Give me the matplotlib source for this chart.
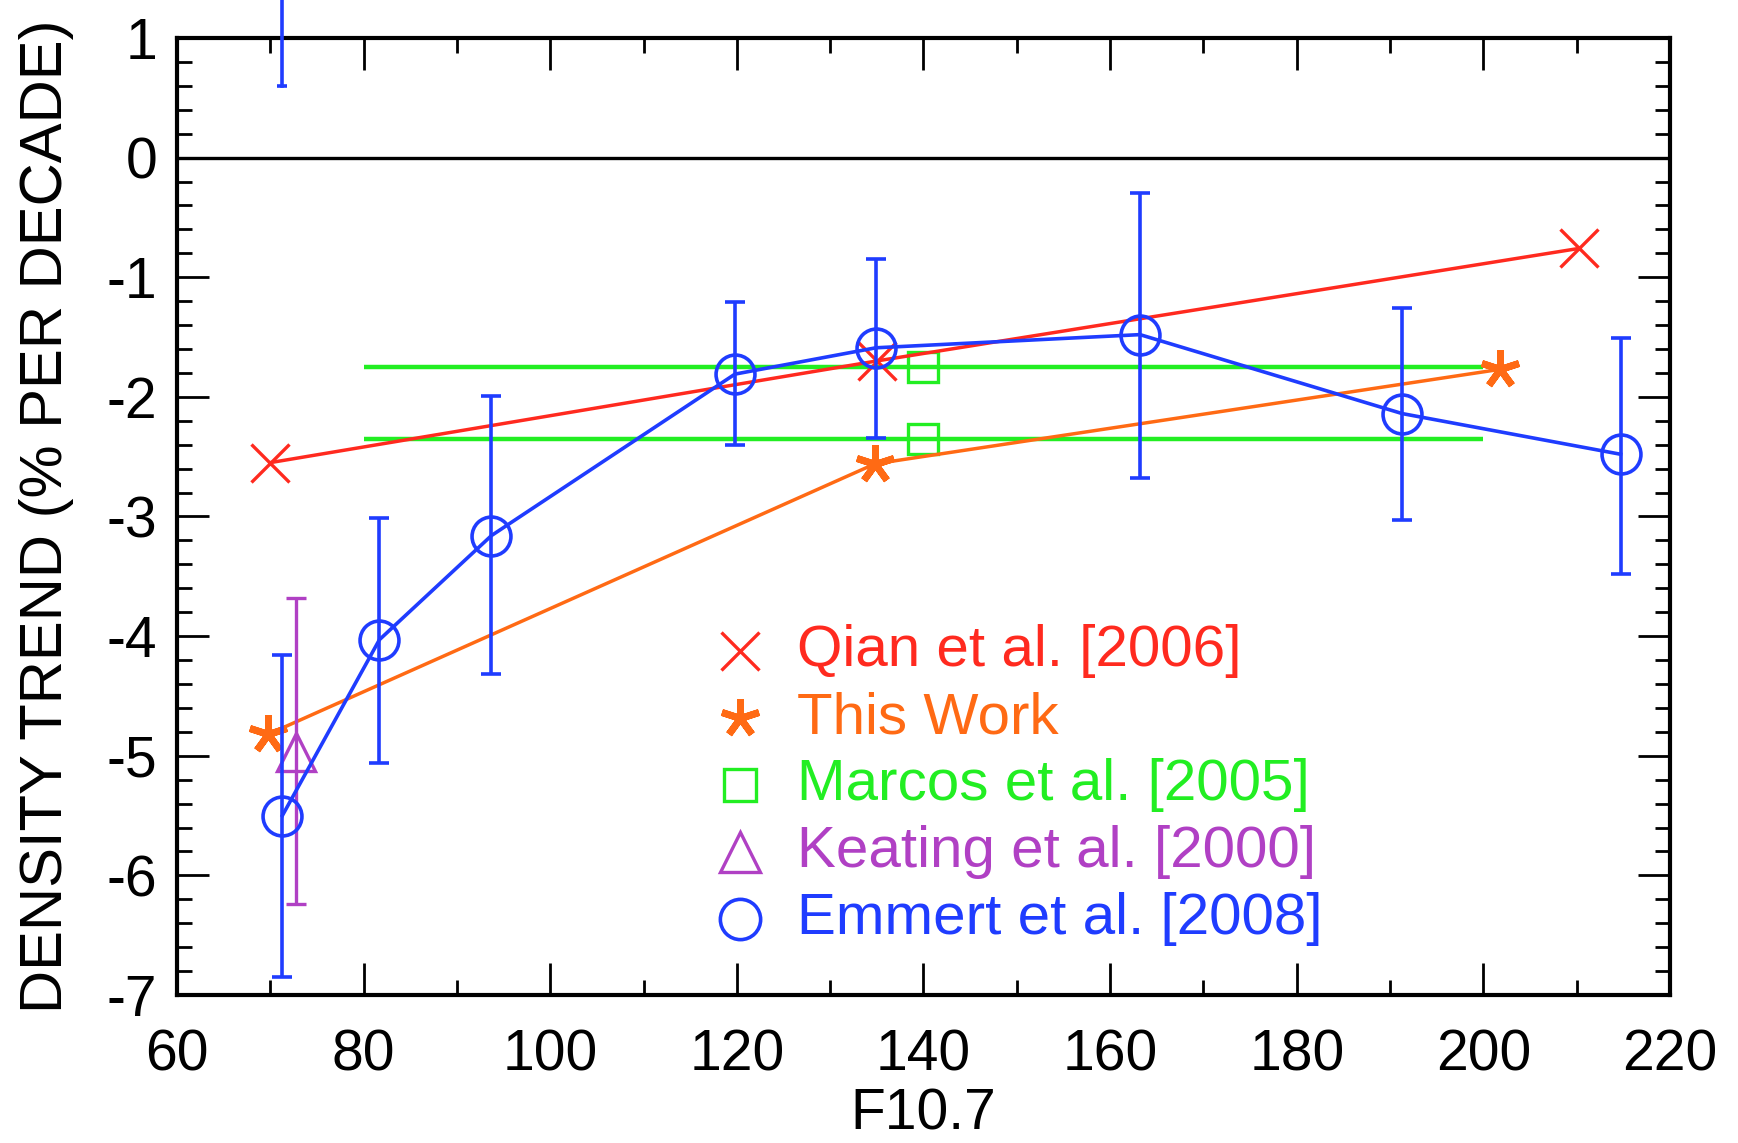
import matplotlib
matplotlib.use('Agg')
import matplotlib.pyplot as plt
from matplotlib.ticker import MultipleLocator

plt.rcParams['font.family'] = ['Liberation Sans', 'DejaVu Sans']
plt.rcParams['axes.unicode_minus'] = False

# ---- data ----
qian_x = [70.0, 135.0, 210.2]
qian_y = [-2.55, -1.70, -0.76]

this_x = [69.8, 134.8, 201.8]
this_y = [-4.82, -2.56, -1.77]

marcos_x = [140.0, 140.0]
marcos_y = [-1.75, -2.35]
marcos_xmin = 80.0
marcos_xmax = 200.0

keating_x = [72.8]
keating_y = [-4.97]
keating_lo = [-6.24]
keating_hi = [-3.68]

emmert_x = [71.3, 81.7, 93.7, 119.8, 134.9, 163.2, 191.3, 214.7]
emmert_y = [-5.50, -4.03, -3.16, -1.81, -1.59, -1.48, -2.14, -2.48]
emmert_lo = [-6.85, -5.06, -4.32, -2.40, -2.34, -2.68, -3.03, -3.48]
emmert_hi = [-4.16, -3.01, -1.99, -1.21, -0.85, -0.30, -1.26, -1.51]

# off-scale Emmert error bar at low F10.7
offscale_x = [71.3]
offscale_lo = [0.60]
offscale_hi = [1.45]

xticks = [60, 80, 100, 120, 140, 160, 180, 200, 220]
yticks = [1, 0, -1, -2, -3, -4, -5, -6, -7]

labels = ['Qian et al. [2006]', 'This Work', 'Marcos et al. [2005]',
          'Keating et al. [2000]', 'Emmert et al. [2008]']

RED = '#ff2a1f'
ORANGE = '#ff6a14'
GREEN = '#22ee22'
PURPLE = '#b040c4'
BLUE = '#1f3cff'

star = (5, 2, 0)

fig = plt.figure(figsize=(17.38, 11.43), dpi=100)
ax = fig.add_axes([0.1018, 0.1295, 0.8591, 0.8373])

ax.set_xlim(60, 220)
ax.set_ylim(-7, 1)

ax.axhline(0, color='black', lw=2.4, zorder=1)

# Marcos horizontal lines
for yv in marcos_y:
    ax.hlines(yv, marcos_xmin, marcos_xmax, color=GREEN, lw=3.2, zorder=2)
ax.plot(marcos_x, marcos_y, ls='none', marker='s', ms=21, mfc='none',
        mec=GREEN, mew=2.4, zorder=3)

# Qian
ax.plot(qian_x, qian_y, color=RED, lw=2.5, marker='x', ms=27, mew=2.4, zorder=4)

# This work
ax.plot(this_x, this_y, color=ORANGE, lw=2.5, zorder=4)
ax.plot(this_x, this_y, ls='none', marker=star, ms=28, mew=5, mec=ORANGE,
        mfc=ORANGE, zorder=5)

# Keating
ax.errorbar(keating_x, keating_y,
            yerr=[[y - l for y, l in zip(keating_y, keating_lo)],
                  [h - y for y, h in zip(keating_y, keating_hi)]],
            fmt='^', ms=28, mfc='none', mec=PURPLE, mew=2.4, ecolor=PURPLE,
            elinewidth=2.4, capsize=7, capthick=2.4, zorder=4)

# Emmert
ax.errorbar(emmert_x, emmert_y,
            yerr=[[y - l for y, l in zip(emmert_y, emmert_lo)],
                  [h - y for y, h in zip(emmert_y, emmert_hi)]],
            fmt='-o', color=BLUE, lw=2.6, ms=28, mfc='none', mec=BLUE, mew=2.6,
            ecolor=BLUE, elinewidth=2.6, capsize=7, capthick=2.6, zorder=6)

for x, lo, hi in zip(offscale_x, offscale_lo, offscale_hi):
    ax.plot([x, x], [lo, hi], color=BLUE, lw=2.6, clip_on=False, zorder=6)
    ax.plot([x], [lo], marker='_', ms=7, mew=2.6, color=BLUE, zorder=6)

# axes styling
ax.set_xticks(xticks)
ax.set_yticks(yticks)
ax.xaxis.set_minor_locator(MultipleLocator(10))
ax.yaxis.set_minor_locator(MultipleLocator(0.2))
ax.tick_params(which='both', direction='in', top=True, right=True, width=2.0)
ax.tick_params(which='major', length=23)
ax.tick_params(which='minor', length=11)
ax.tick_params(axis='x', which='major', labelsize=41, pad=24)
ax.tick_params(axis='y', which='major', labelsize=41, pad=14)
for s in ax.spines.values():
    s.set_linewidth(3.0)

ax.set_xlabel('F10.7', fontsize=41, labelpad=4)
ax.set_ylabel('DENSITY TREND (% PER DECADE)', fontsize=43, labelpad=24)

# legend (manual, in axes coordinates)
leg_colors = [RED, ORANGE, GREEN, PURPLE, BLUE]
leg_markers = ['x', star, 's', '^', 'o']
leg_ms = [28, 28, 23, 29, 29]
leg_mew = [2.4, 5, 2.4, 2.4, 2.6]
leg_fill = ['none', ORANGE, 'none', 'none', 'none']
y0 = 0.359
dy = 0.0699
for i, (lab, c, m, ms, mw, mf) in enumerate(zip(labels, leg_colors, leg_markers,
                                                 leg_ms, leg_mew, leg_fill)):
    yy = y0 - i * dy
    ax.plot([0.377], [yy], transform=ax.transAxes, ls='none', marker=m, ms=ms,
            mew=mw, mec=c, mfc=mf, clip_on=False, zorder=7)
    ax.text(0.415, yy, lab, transform=ax.transAxes, color=c, fontsize=42,
            va='center', ha='left', zorder=7)

fig.savefig('out.png', dpi=100)
